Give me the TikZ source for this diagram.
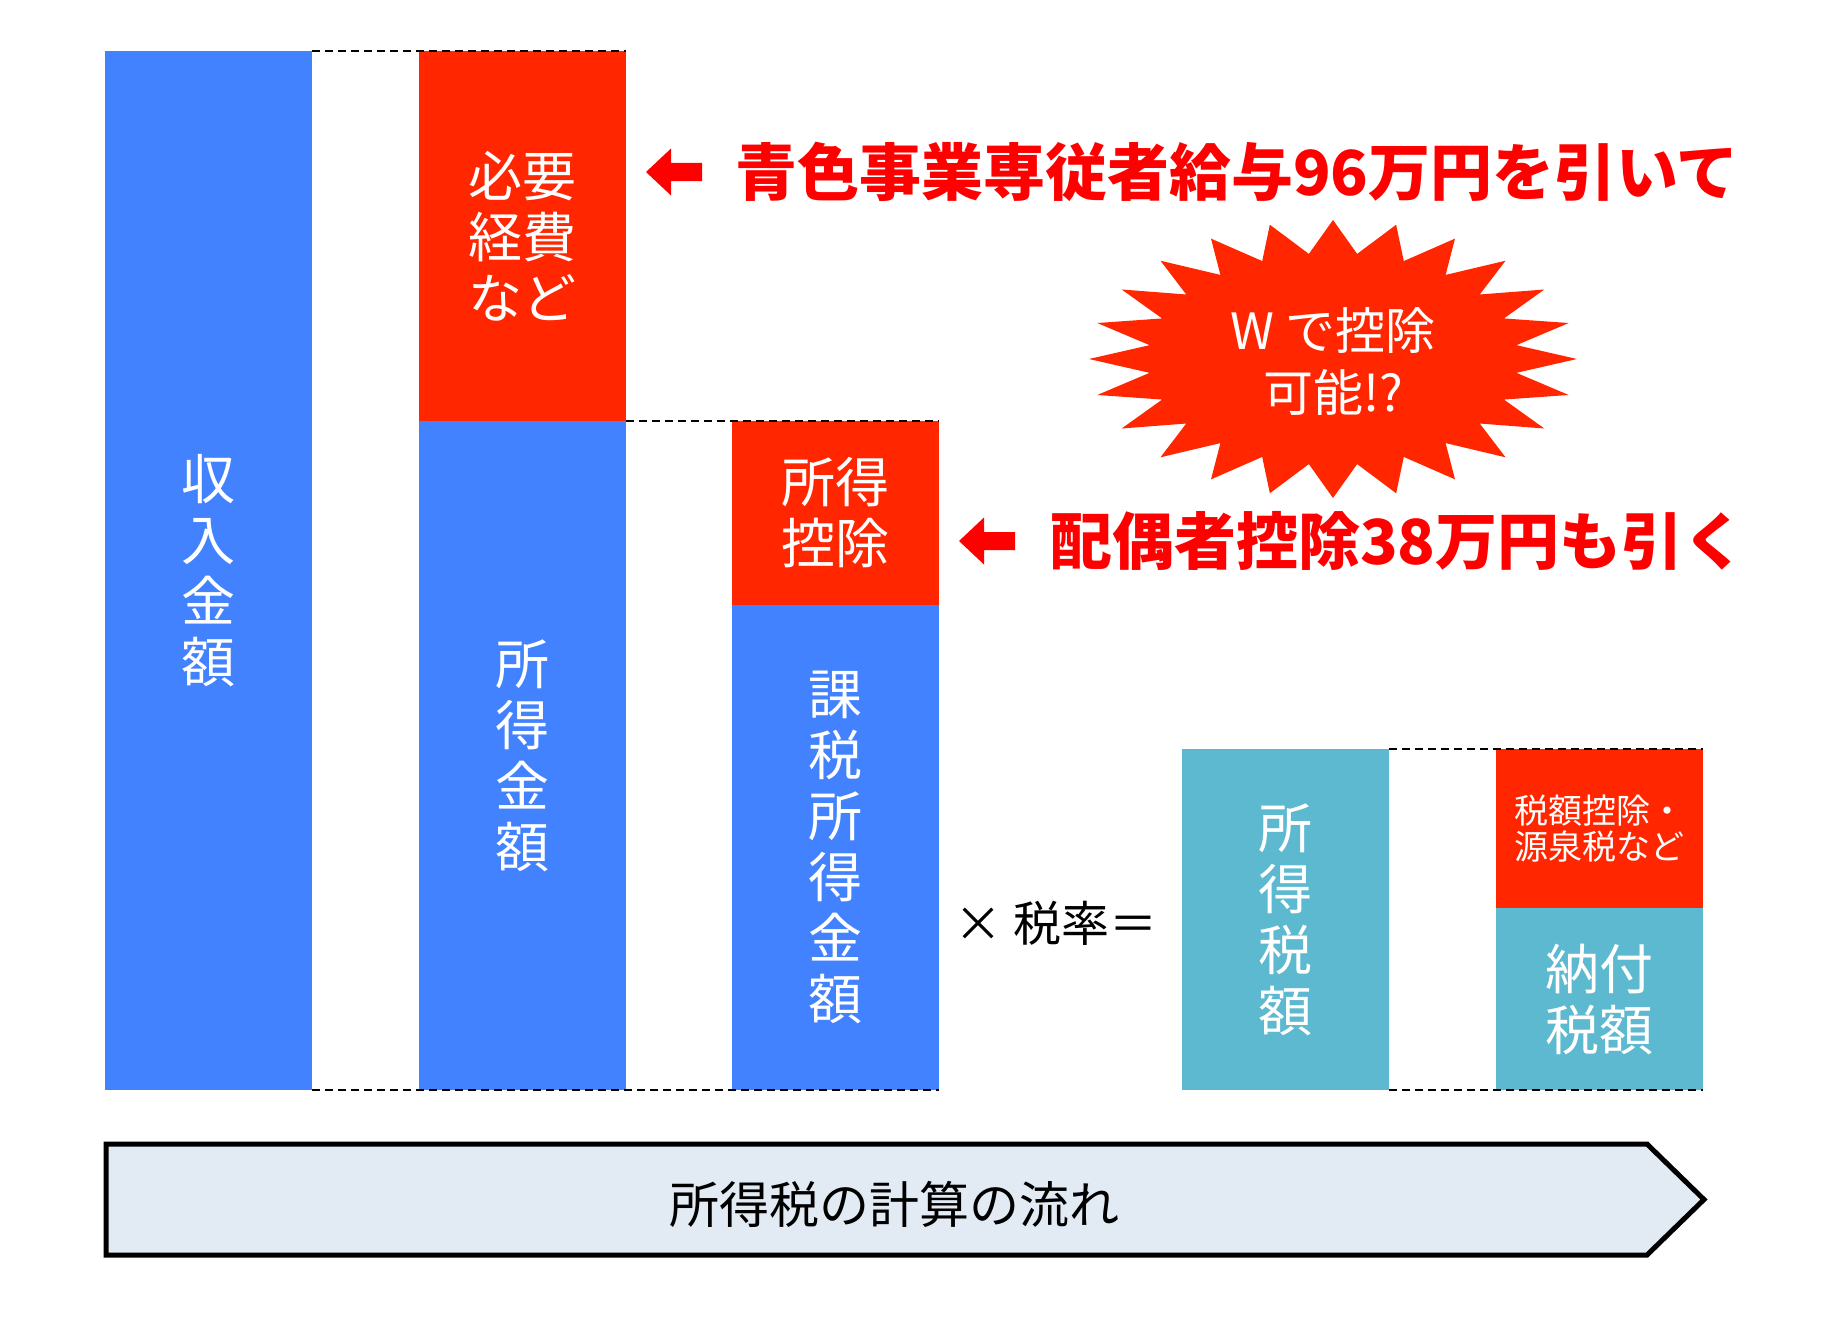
\documentclass[tikz,border=0pt]{standalone}
\usepackage{fontspec}
\setmainfont{Noto Sans CJK JP}

\definecolor{barblue}{RGB}{66,130,255}
\definecolor{barred}{RGB}{255,38,0}
\definecolor{barteal}{RGB}{92,185,208}
\definecolor{flowfill}{RGB}{226,234,244}

\tikzset{
    bar/.style={anchor=north west, minimum width=103.5pt, inner sep=0pt, outer sep=0pt, text=white, align=center, font=\fontsize{27pt}{30.5pt}\selectfont},
    guide/.style={black, line width=1pt, dash pattern=on 4pt off 2.5pt},
    note/.style={anchor=west, text=red, font=\fontsize{31pt}{36pt}\selectfont\bfseries},
}

\begin{document}
\begin{tikzpicture}[x=0.5pt,y=-0.5pt]
        \useasboundingbox (0,0) rectangle (1842,1322);
        \node[bar, fill=barblue, minimum height=519.5pt] (shunyu) at (105,51) {収\\入\\金\\額};
        \node[bar, fill=barred, minimum height=185pt] (keihi) at (419,51) {必要\\経費\\など};
        \node[bar, fill=barblue, minimum height=334.5pt] (shotoku) at (419,421) {所\\得\\金\\額};
        \node[bar, fill=barred, minimum height=92pt] (kojo) at (732,421) {所得\\控除};
        \node[bar, fill=barblue, minimum height=242.5pt] (kazei) at (732,605) {課\\税\\所\\得\\金\\額};
        \node[bar, fill=barteal, minimum height=170.5pt] (zeigaku) at (1182,749) {所\\得\\税\\額};
        \node[bar, fill=barred, minimum height=79.5pt, font=\fontsize{17pt}{18pt}\selectfont] (zeikojo) at (1496,749) {税額控除・\\源泉税など};
        \node[bar, fill=barteal, minimum height=91pt] (nofu) at (1496,908) {納付\\税額};
        \draw[guide] (shunyu.north east) -- (keihi.north east);
        \draw[guide] (keihi.south east) -- (kojo.north east);
        \draw[guide] (shunyu.south east) -- (kazei.south east);
        \draw[guide] (zeigaku.north east) -- (zeikojo.north east);
        \draw[guide] (zeigaku.south east) -- (nofu.south east);
        \node[font=\fontsize{24pt}{28pt}\selectfont] (zeiritsu) at (1056,923) {× 税率＝};
        \fill[red] (646,172) -- ++(25,-23.5) -- ++(0,14.5) -- ++(31,0) -- ++(0,18) -- ++(-31,0) -- ++(0,14.5) -- cycle;
        \node[note] (senjusha) at (728,172) {青色事業専従者給与96万円を引いて};
        \fill[red] (959,541) -- ++(25,-23.5) -- ++(0,14.5) -- ++(31,0) -- ++(0,18) -- ++(-31,0) -- ++(0,14.5) -- cycle;
        \node[note] (haigusha) at (1043,541) {配偶者控除38万円も引く};
        \begin{scope}[shift={(1333,359)}]
            \fill[barred] (0:244 and 139) \foreach \i in {1,...,24} { -- (\i*15-7.5:185 and 106) -- (\i*15:244 and 139) } -- cycle;
        \end{scope}
        \node[text=white, align=center, font=\fontsize{25pt}{31pt}\selectfont] (wkojo) at (1333,361) {W で控除\\可能!?};
        \draw[line width=2.5pt, fill=flowfill] (106,1144) -- (1647,1144) -- (1704,1199.5) -- (1647,1255) -- (106,1255) -- cycle;
        \node[font=\fontsize{25pt}{30pt}\selectfont] (nagare) at (894,1204) {所得税の計算の流れ};
\end{tikzpicture}
\end{document}
